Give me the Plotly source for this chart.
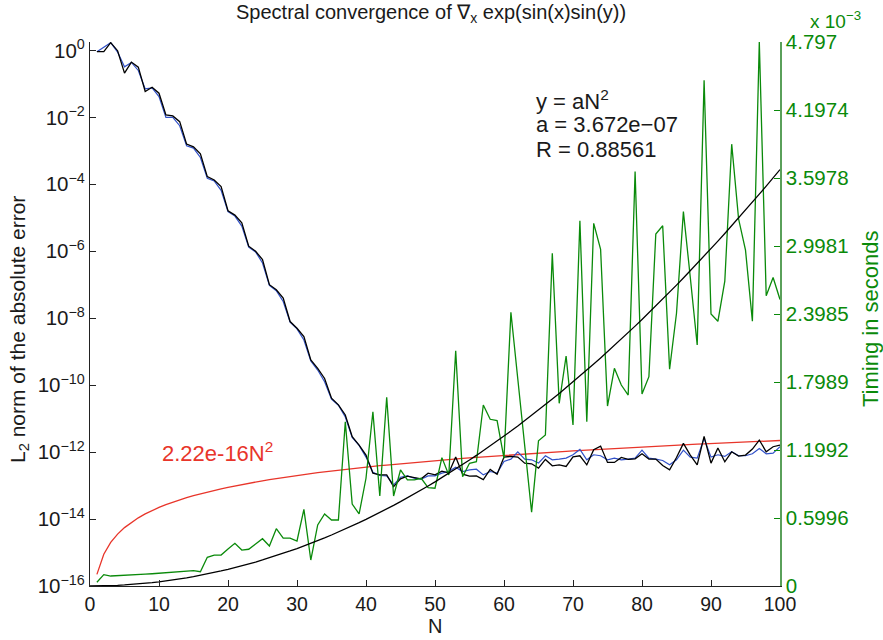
import numpy as np
import plotly.graph_objects as go

N = list(range(1, 101))

# log10 of L2 error (black series)
err_black_log10 = [
    -0.04, -0.04, 0.23, -0.01, -0.68, -0.35, -0.50, -1.23, -1.10, -1.28,
    -1.93, -1.96, -2.13, -2.80, -2.88, -3.09, -3.77, -3.87, -4.07, -4.79,
    -4.92, -5.15, -5.85, -6.00, -6.25, -7.00, -7.15, -7.40, -8.10, -8.30,
    -8.55, -9.25, -9.50, -9.80, -10.39, -10.59, -10.89, -11.54, -11.79, -12.09,
    -12.63, -12.68, -12.68, -13.03, -12.80, -12.72, -12.76, -12.80, -12.63, -12.68,
    -12.57, -12.62, -12.15, -12.66, -12.72, -12.71, -12.82, -12.52, -12.66, -12.15,
    -12.13, -12.15, -12.33, -12.35, -12.48, -12.22, -12.41, -12.38, -12.43, -12.14,
    -12.11, -12.38, -11.93, -11.82, -12.31, -12.31, -12.16, -12.22, -12.20, -12.05,
    -12.21, -12.21, -12.40, -12.53, -12.16, -11.74, -12.09, -12.38, -11.53, -12.33,
    -11.88, -12.29, -11.99, -12.12, -12.09, -11.91, -11.64, -11.99, -11.84, -11.79,
]

# log10 of L2 error (blue series)
err_blue_log10 = [
    -0.04, 0.10, 0.23, -0.05, -0.49, -0.36, -0.60, -1.15, -1.12, -1.38,
    -2.00, -2.00, -2.25, -2.85, -2.92, -3.20, -3.82, -3.90, -4.18, -4.82,
    -4.95, -5.25, -5.88, -6.02, -6.35, -7.02, -7.18, -7.50, -8.12, -8.32,
    -8.65, -9.28, -9.55, -9.90, -10.42, -10.60, -10.95, -11.56, -11.80, -12.15,
    -12.60, -12.70, -12.71, -12.98, -12.75, -12.71, -12.78, -12.81, -12.71, -12.71,
    -12.63, -12.58, -12.45, -12.58, -12.53, -12.51, -12.68, -12.58, -12.63, -12.28,
    -12.21, -11.99, -12.21, -12.23, -12.33, -12.11, -12.23, -12.21, -12.18, -12.08,
    -11.92, -12.23, -12.08, -12.11, -12.23, -12.18, -12.23, -12.21, -12.18, -11.94,
    -12.18, -12.21, -12.25, -12.38, -12.23, -11.94, -12.15, -12.18, -11.59, -12.15,
    -12.08, -12.13, -11.99, -12.11, -12.11, -12.05, -11.89, -12.05, -12.03, -11.84,
]

# timing in units of 1e-3 seconds (green series)
timing_ms = [
    0.033, 0.100, 0.088, 0.090, 0.093, 0.097, 0.100, 0.104, 0.108, 0.112,
    0.116, 0.120, 0.124, 0.129, 0.135, 0.126, 0.253, 0.273, 0.273, 0.326,
    0.376, 0.317, 0.324, 0.370, 0.417, 0.353, 0.505, 0.423, 0.423, 0.397,
    0.676, 0.229, 0.538, 0.635, 0.582, 0.582, 1.449, 0.723, 0.635, 0.950,
    1.537, 0.794, 1.664, 0.794, 1.023, 0.935, 0.935, 0.950, 0.868, 0.862,
    1.132, 0.979, 2.075, 0.964, 1.082, 1.096, 1.596, 1.470, 1.458, 1.126,
    2.414, 1.825, 1.237, 0.650, 1.281, 1.332, 2.934, 1.611, 2.028, 1.420,
    3.221, 1.449, 3.198, 2.969, 1.587, 1.920, 1.772, 1.684, 3.654, 1.693,
    1.846, 3.104, 3.177, 1.911, 2.405, 3.301, 2.720, 2.125, 4.459, 2.398,
    2.334, 2.688, 3.896, 3.236, 2.962, 2.334, 4.797, 2.560, 2.720, 2.527,
]

fit_a = 3.672e-07        # y = a N^2 (seconds)
eps_coef = 2.22e-16      # eps * N^2

left_tickvals = [1e-16, 1e-14, 1e-12, 1e-10, 1e-8, 1e-6, 1e-4, 1e-2, 1e0]
left_ticktext = ["10<sup>−16</sup>", "10<sup>−14</sup>", "10<sup>−12</sup>", "10<sup>−10</sup>",
                 "10<sup>−8</sup>", "10<sup>−6</sup>", "10<sup>−4</sup>", "10<sup>−2</sup>", "10<sup>0</sup>"]
right_ticktext = ["0", "0.5996", "1.1992", "1.7989", "2.3985", "2.9981", "3.5978", "4.1974", "4.797"]
x_ticks = [0, 10, 20, 30, 40, 50, 60, 70, 80, 90, 100]
fit_lines = ["y = aN<sup>2</sup>", "a = 3.672e−07", "R = 0.88561"]

GREEN = "#0a8a0a"
BLUE = "#3050c8"
RED = "#e8352a"
FONT = "Liberation Sans"
TXT = "#1a1a1a"

Narr = np.array(N, dtype=float)
err_black = 10.0 ** np.array(err_black_log10)
err_blue = 10.0 ** np.array(err_blue_log10)
eps_curve = eps_coef * Narr ** 2
Nfit = np.concatenate([[0.0], Narr])
fit_curve_ms = fit_a * Nfit ** 2 * 1e3

fig = go.Figure()
fig.add_trace(go.Scatter(x=N, y=timing_ms, mode="lines", line=dict(color=GREEN, width=1.3), yaxis="y2"))
fig.add_trace(go.Scatter(x=Nfit, y=fit_curve_ms, mode="lines", line=dict(color="black", width=1.3), yaxis="y2"))
fig.add_trace(go.Scatter(x=N, y=eps_curve, mode="lines", line=dict(color=RED, width=1.3)))
fig.add_trace(go.Scatter(x=N, y=err_blue, mode="lines", line=dict(color=BLUE, width=1.2)))
fig.add_trace(go.Scatter(x=N, y=err_black, mode="lines", line=dict(color="black", width=1.3)))

right_tickvals = [k * 4.797 / 8 for k in range(9)]
TICK = 20.5

fig.update_layout(
    width=883, height=640,
    margin=dict(l=90, r=103, t=42, b=54),
    paper_bgcolor="white", plot_bgcolor="white",
    showlegend=False,
    font=dict(family=FONT, size=18, color=TXT),
    xaxis=dict(range=[0, 100], tickvals=x_ticks, ticktext=[str(v) for v in x_ticks],
               ticks="inside", ticklen=6, tickcolor="#222", showline=True, linecolor="#222",
               linewidth=1.2, showgrid=False, zeroline=False, mirror=False,
               tickfont=dict(size=19.5, color=TXT)),
    yaxis=dict(type="log", range=[-16, 0.25], tickvals=left_tickvals, ticktext=left_ticktext,
               ticks="inside", ticklen=6, tickcolor="#222", showline=True, linecolor="#222",
               linewidth=1.2, showgrid=False, zeroline=False,
               tickfont=dict(size=TICK, color=TXT)),
    yaxis2=dict(range=[0, 4.797], tickvals=right_tickvals, ticktext=right_ticktext,
                overlaying="y", side="right", anchor="x",
                ticks="inside", ticklen=6, tickcolor=GREEN, showline=True, linecolor="#5aa05a",
                linewidth=1.5, showgrid=False, zeroline=False,
                tickfont=dict(size=TICK, color=GREEN)),
)


def px(xp):
    return (xp - 90) / 690


def py(yp):
    return (586 - yp) / 544


ann = [
    dict(text="Spectral convergence of ∇<sub>x</sub> exp(sin(x)sin(y))", x=px(431), y=py(13),
         xanchor="center", yanchor="middle", font=dict(size=20, color=TXT)),
    dict(text="2.22e-16N<sup>2</sup>", x=px(217), y=py(452),
         xanchor="center", yanchor="middle", font=dict(size=22, color=RED)),
    dict(text="x 10<sup>−3</sup>", x=px(808), y=py(20),
         xanchor="left", yanchor="middle", font=dict(size=19, color=GREEN)),
    dict(text="N", x=px(435), y=py(626), xanchor="center", yanchor="middle",
         font=dict(size=20, color=TXT)),
    dict(text="L<sub>2</sub> norm of the absolute error", x=px(19), y=py(330),
         textangle=-90, xanchor="center", yanchor="middle", font=dict(size=21, color=TXT)),
    dict(text="Timing in seconds", x=px(870), y=py(319),
         textangle=-90, xanchor="center", yanchor="middle", font=dict(size=22, color=GREEN)),
]
for i, line in enumerate(fit_lines):
    ann.append(dict(text=line, x=px(534), y=py(100 + 24.5 * i), xanchor="left", yanchor="middle",
                    align="left", font=dict(size=22, color=TXT)))
for a in ann:
    a.update(xref="paper", yref="paper", showarrow=False)
fig.update_layout(annotations=ann)

fig.write_html("out.html")
